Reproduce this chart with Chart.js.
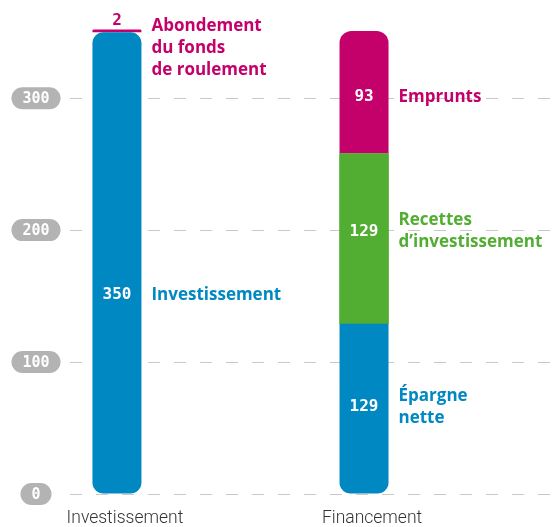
<!DOCTYPE html>
<html><head><meta charset="utf-8">
<script src="https://cdn.jsdelivr.net/npm/chart.js@4/dist/chart.umd.min.js"></script>
<style>html,body{margin:0;padding:0;background:#fff}#wrap{width:557px;height:527px;position:relative}</style>
</head><body><div id="wrap"><canvas id="c"></canvas></div>
<script>
// ---- data ----
const categories = ['Investissement', 'Financement'];
const baseValues = [350, 129];
const middleValues = [null, 129];
const topValues = [2, 93];
const baseNames = [['Investissement'], ['Épargne', 'nette']];
const middleNames = [null, ['Recettes', 'd’investissement']];
const topNames = [['Abondement', 'du fonds', 'de roulement'], ['Emprunts']];
const yTickValues = [0, 100, 200, 300];

// ---- style ----
const BLUE = '#0088c3', GREEN = '#52ad33', MAGENTA = '#c4006a', PILL = '#b3b3b3', GRID = '#c9c9c9';
const BOLD_FONT = '"Open Sans", "DejaVu Sans", sans-serif';
const NUM_FONT = '"DejaVu Sans Mono", "Liberation Mono", monospace';

const xy = arr => arr.map((v, i) => ({ x: i, y: v }));

const labelPlugin = {
  id: 'segLabels',
  afterDatasetsDraw(chart, args, opts) {
    const ctx = chart.ctx, y = chart.scales.y;
    chart.data.datasets.forEach((ds, di) => {
      const meta = chart.getDatasetMeta(di);
      meta.data.forEach((bar, i) => {
        const v = ds.data[i].y;
        if (v == null) return;
        const p = bar.getProps(['x', 'y', 'base', 'width'], true);
        const key = di + '-' + i;
        const place = opts.placements[key] || {};
        const names = ds.names[i];
        const right = p.x + p.width / 2 + 10;
        ctx.save();
        ctx.textBaseline = 'middle';
        if (place.above) {
          ctx.fillStyle = ds.backgroundColor;
          ctx.font = 'bold 16px ' + NUM_FONT;
          ctx.textAlign = 'center';
          ctx.fillText(String(v), p.x, p.y - 9);
          ctx.font = 'bold 17px ' + BOLD_FONT;
          ctx.textAlign = 'left';
          names.forEach((t, k) => ctx.fillText(t, right, p.y - 3 + k * 22));
        } else {
          const cy = place.at != null ? y.getPixelForValue(place.at) : (p.y + p.base) / 2;
          ctx.fillStyle = '#fff';
          ctx.font = 'bold 16px ' + NUM_FONT;
          ctx.textAlign = 'center';
          ctx.fillText(String(v), p.x, cy);
          ctx.fillStyle = ds.backgroundColor;
          ctx.font = 'bold 17px ' + BOLD_FONT;
          ctx.textAlign = 'left';
          const n = names.length;
          names.forEach((t, k) => ctx.fillText(t, right, cy + (k - (n - 1) / 2) * 22));
        }
        ctx.restore();
      });
    });
  }
};

const pillPlugin = {
  id: 'tickPills',
  afterDraw(chart) {
    const ctx = chart.ctx, y = chart.scales.y;
    ctx.save();
    ctx.font = 'bold 15px ' + NUM_FONT;
    ctx.textAlign = 'center';
    ctx.textBaseline = 'middle';
    yTickValues.forEach(v => {
      const cy = y.getPixelForValue(v);
      const txt = String(v);
      const h = 22;
      const w = Math.max(25, ctx.measureText(txt).width + 22);
      const cx = 36;
      ctx.fillStyle = PILL;
      ctx.beginPath();
      ctx.roundRect(cx - w / 2, cy - h / 2, w, h, h / 2);
      ctx.fill();
      ctx.fillStyle = '#fff';
      ctx.fillText(txt, cx, cy + 1);
    });
    ctx.restore();
  }
};

new Chart(document.getElementById('c'), {
  type: 'bar',
  data: {
    datasets: [
      { data: xy(baseValues), names: baseNames, backgroundColor: BLUE, borderSkipped: false, inflateAmount: 0,
        borderRadius: c => c.dataIndex === 0 ? { topLeft: 11, topRight: 11, bottomLeft: 11, bottomRight: 11 } : { topLeft: 0, topRight: 0, bottomLeft: 11, bottomRight: 11 } },
      { data: xy(middleValues), names: middleNames, backgroundColor: GREEN, borderSkipped: false, borderRadius: 0 },
      { data: xy(topValues), names: topNames, backgroundColor: MAGENTA, borderSkipped: false, inflateAmount: 0,
        borderRadius: { topLeft: 12, topRight: 12, bottomLeft: 0, bottomRight: 0 } }
    ]
  },
  options: {
    responsive: true,
    maintainAspectRatio: false,
    animation: false,
    barThickness: 49,
    layout: { padding: { top: 19, right: 0, left: 0, bottom: 0 } },
    plugins: {
      legend: { display: false },
      tooltip: { enabled: false },
      segLabels: { placements: { '0-0': { at: 151 }, '0-1': { at: 66 }, '1-1': { at: 199 }, '2-0': { above: true }, '2-1': { at: 301 } } }
    },
    scales: {
      x: {
        type: 'linear', stacked: true, offset: false, min: -0.19, max: 1.781,
        afterBuildTicks: s => { s.ticks = categories.map((c, i) => ({ value: i })); },
        afterFit: s => { s.height = 33; },
        ticks: { callback: (v) => categories[v], labelOffset: 8, padding: 6, autoSkip: false, maxRotation: 0,
          font: { family: 'Roboto, "DejaVu Sans", sans-serif', size: 17.5, weight: '300' }, color: '#333' },
        grid: { display: false }, border: { display: false }
      },
      y: {
        stacked: true, min: 0, max: 360,
        afterBuildTicks: s => { s.ticks = yTickValues.map(v => ({ value: v })); },
        afterFit: s => { s.width = 70; },
        ticks: { display: false },
        grid: { color: GRID, lineWidth: 1, drawTicks: false },
        border: { display: false, dash: [12, 14] }
      }
    }
  },
  plugins: [labelPlugin, pillPlugin]
});
</script>
</body></html>
